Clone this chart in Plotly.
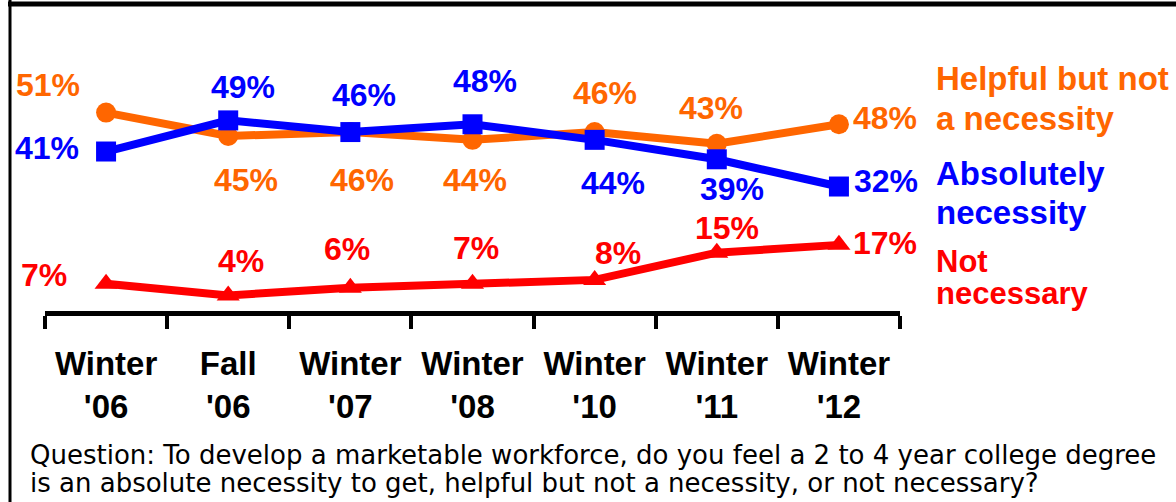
import plotly.graph_objects as go

# ---- data ----
categories = ["Winter<br>'06", "Fall<br>'06", "Winter<br>'07", "Winter<br>'08",
              "Winter<br>'10", "Winter<br>'11", "Winter<br>'12"]
helpful = [51, 45, 46, 44, 46, 43, 48]
absolute = [41, 49, 46, 48, 44, 39, 32]
not_necessary = [7, 4, 6, 7, 8, 15, 17]

ORANGE = "#FF6600"
BLUE = "#0000FF"
RED = "#FF0000"
FONT = "Liberation Sans"

W, H = 1176, 502
L, R, T, B = 45, 276, 10, 191
PW, PH = W - L - R, H - T - B


def px_x(px):
    return (px - L) / PW


def px_y(py):
    return (H - B - py) / PH


fig = go.Figure()
fig.add_trace(go.Scatter(x=categories, y=helpful, mode="lines+markers",
                         line=dict(color=ORANGE, width=8),
                         marker=dict(symbol="circle", size=20, color=ORANGE),
                         name="Helpful but not a necessity"))
fig.add_trace(go.Scatter(x=categories, y=absolute, mode="lines+markers",
                         line=dict(color=BLUE, width=8),
                         marker=dict(symbol="square", size=20, color=BLUE),
                         name="Absolutely necessity"))
fig.add_trace(go.Scatter(x=categories, y=not_necessary, mode="lines+markers",
                         line=dict(color=RED, width=8),
                         marker=dict(symbol="triangle-up", size=20, color=RED),
                         name="Not necessary"))

# data label offsets (pixels)
off_helpful = [(-58, 28), (18, -44), (12, -48), (2, -40), (10, 39), (-6, 36), (46, 6)]
off_absolute = [(-59, 4), (15, 33), (14, 37), (12, 43), (18, -43), (15, -30), (47, 6)]
off_not = [(-62, 9), (13, 34), (-3, 39), (3, 36), (23, 27), (10, 25), (46, 2)]

annotations = []
for vals, offs, col in [(helpful, off_helpful, ORANGE),
                        (absolute, off_absolute, BLUE),
                        (not_necessary, off_not, RED)]:
    for i, (v, (dx, dy)) in enumerate(zip(vals, offs)):
        annotations.append(dict(x=i, y=v, xref="x", yref="y", text=f"{v}%",
                                showarrow=False, xshift=dx, yshift=dy,
                                font=dict(family=FONT, size=32, color=col, weight="bold")))

legend_lines = [
    ("Helpful but not", 79, ORANGE, 33),
    ("a necessity", 118, ORANGE, 33),
    ("Absolutely", 173, BLUE, 33),
    ("necessity", 212, BLUE, 33),
    ("Not", 261, RED, 31),
    ("necessary", 293, RED, 31),
]
for txt, py, col, fs in legend_lines:
    annotations.append(dict(x=px_x(934), y=px_y(py), xref="paper", yref="paper",
                            xanchor="left", yanchor="middle", text=txt, showarrow=False,
                            font=dict(family=FONT, size=fs, color=col, weight="bold")))

question_lines = [
    ("Question: To develop a marketable workforce, do you feel a 2 to 4 year college degree", 455),
    ("is an absolute necessity to get, helpful but not a necessity, or not necessary?", 483),
]
for txt, py in question_lines:
    annotations.append(dict(x=px_x(28), y=px_y(py), xref="paper", yref="paper",
                            xanchor="left", yanchor="middle", text=txt, showarrow=False,
                            font=dict(family="DejaVu Sans", size=26, color="black")))

shapes = [
    dict(type="line", xref="paper", yref="paper", x0=px_x(8), x1=px_x(1180),
         y0=px_y(4), y1=px_y(4), line=dict(color="black", width=5)),
    dict(type="line", xref="paper", yref="paper", x0=px_x(10), x1=px_x(10),
         y0=px_y(0), y1=px_y(510), line=dict(color="black", width=3)),
]

fig.update_layout(
    width=W, height=H,
    margin=dict(l=L, r=R, t=T, b=B),
    plot_bgcolor="white", paper_bgcolor="white",
    showlegend=False,
    annotations=annotations,
    shapes=shapes,
    xaxis=dict(type="category", range=[-0.5, 6.5], showgrid=False, zeroline=False,
               showline=True, linecolor="black", linewidth=5,
               ticks="outside", tickson="boundaries", ticklen=13, tickwidth=4,
               tickcolor="black", ticklabelstandoff=19,
               tickfont=dict(family=FONT, size=33, color="black", weight="bold")),
    yaxis=dict(range=[0, PH / 3.89], visible=False, showgrid=False, zeroline=False),
)

fig.write_html("out.html", config={"displayModeBar": False},
               post_script="document.body.style.margin='0';")
